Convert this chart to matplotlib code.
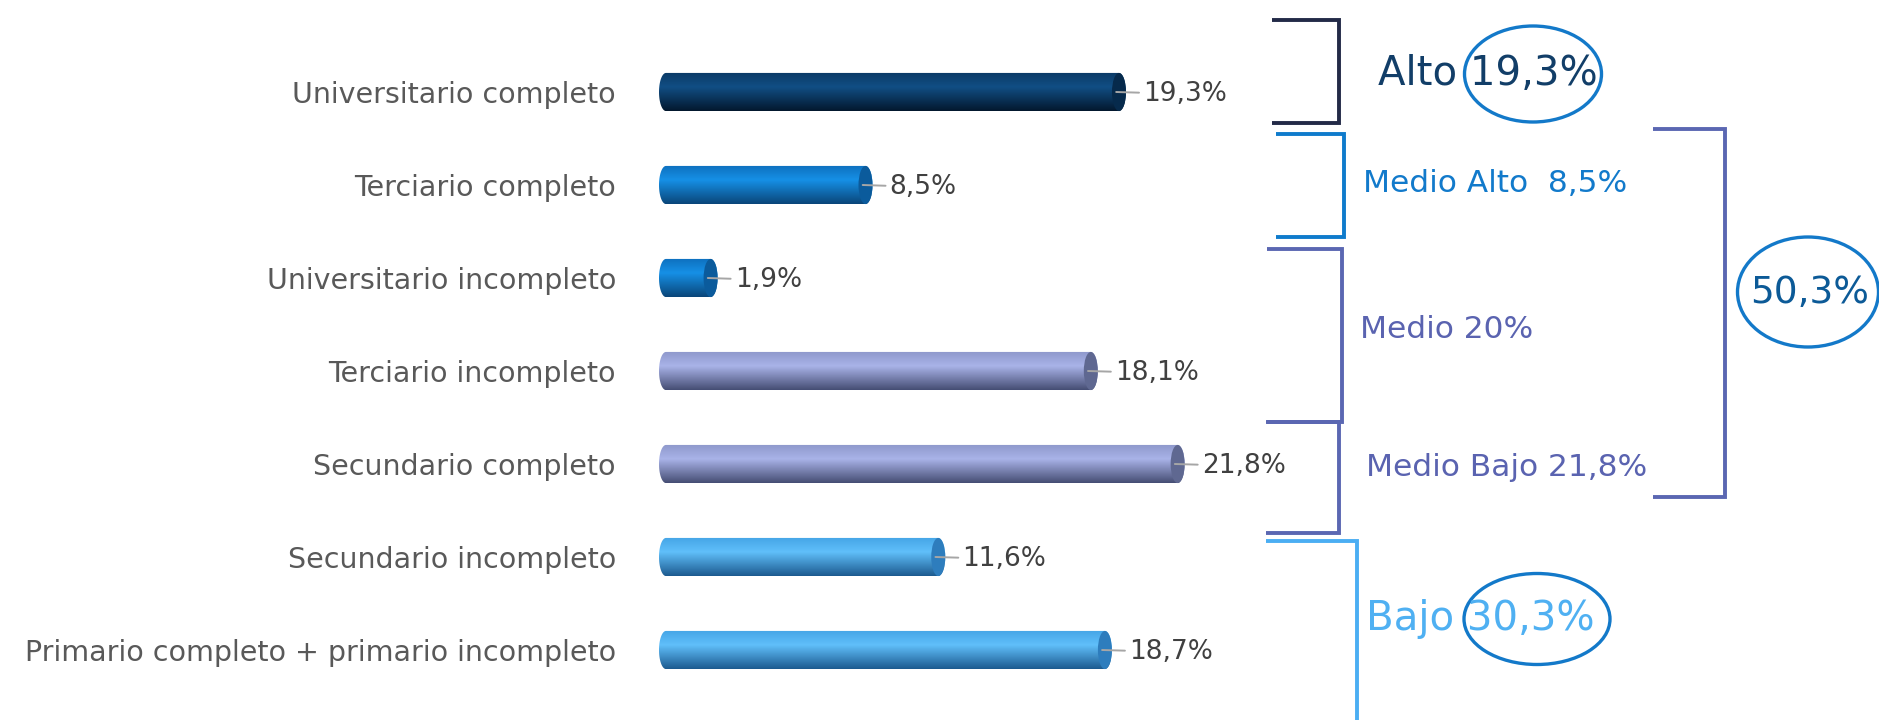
import numpy as np
import matplotlib
matplotlib.use("Agg")
import matplotlib.pyplot as plt
from matplotlib.patches import Ellipse, Polygon
from matplotlib.colors import to_rgb

plt.rcParams["font.family"] = ["DejaVu Sans"]

categories = ["Universitario completo", "Terciario completo", "Universitario incompleto",
              "Terciario incompleto", "Secundario completo", "Secundario incompleto",
              "Primario completo + primario incompleto"]
values = [19.3, 8.5, 1.9, 18.1, 21.8, 11.6, 18.7]
value_labels = ["19,3%", "8,5%", "1,9%", "18,1%", "21,8%", "11,6%", "18,7%"]
bar_group = ["alto", "medio_alto", "medio_alto", "medio", "medio", "bajo", "bajo"]

# cylinder shading: top edge, highlight, bottom edge, end cap
shades = {
    "alto": ("#0b3a66", "#114e84", "#03182e", "#062a4c"),
    "medio_alto": ("#0e70be", "#1690e6", "#0a4679", "#0b5b9c"),
    "medio": ("#8e98cb", "#a9b3e8", "#464e74", "#5f6891"),
    "bajo": ("#45a5e6", "#60bffa", "#1d5b90", "#2e7dbd"),
}

# grouping brackets on the right (figure pixels): x_open, x_close, y_top, y_bottom, colour
brackets = [
    (1272, 1339, 20, 123, "#232a47"),
    (1276, 1344, 134, 237, "#0f7bcc"),
    (1267, 1342, 249, 422, "#5b67b2"),
    (1266, 1339, 422, 533, "#5b67b2"),
    (1653, 1725, 129, 497, "#5b67b2"),
    (1266, 1357, 541, 730, "#4baef3"),
]
# group texts: x, y, text, colour, size, alignment
group_texts = [
    (1378, 74, "Alto 19,3%", "#123e68", 29, "left"),
    (1363, 183, "Medio Alto  8,5%", "#127acb", 22.5, "left"),
    (1360, 330, "Medio 20%", "#5a63b0", 22.5, "left"),
    (1366, 468, "Medio Bajo 21,8%", "#5a63b0", 22.5, "left"),
    (1810, 293, "50,3%", "#0c5a97", 27, "center"),
    (1366, 619, "Bajo 30,3%", "#4fb0f2", 29, "left"),
]
# highlight rings: cx, cy, width, height
rings = [(1533, 74, 137, 96), (1808, 292, 141, 110), (1537, 619, 146, 91)]

W, H = 1879, 720
fig = plt.figure(figsize=(W / 100, H / 100), dpi=100)

# bar axes in pixel placement
ppx = 23.47  # pixels per percent
capw = 14 / ppx
left, right = 659, 1250
top, bottom = 45.5, 696.5
ax = fig.add_axes([left / W, 1 - bottom / H, (right - left) / W, (bottom - top) / H])
ax.set_facecolor("none")
rows = np.arange(len(values))
h = 0.41

bars = ax.barh(rows, values, height=h, color=[shades[g][1] for g in bar_group], zorder=1)


def gradient(c_top, c_hi, c_bot, n=64):
    t = np.linspace(0, 1, n)
    stops = [0, 0.38, 1]
    cols = np.array([to_rgb(c_top), to_rgb(c_hi), to_rgb(c_bot)])
    img = np.stack([np.interp(t, stops, cols[:, k]) for k in range(3)], axis=1)
    return img[:, None, :]


th = np.linspace(-np.pi / 2, np.pi / 2, 40)
for r, v, g, b in zip(rows, values, bar_group, bars):
    c_top, c_hi, c_bot, c_cap = shades[g]
    y0 = r
    a, bb = capw / 2, h / 2
    right_edge = np.column_stack([v + a * np.cos(th), y0 + bb * np.sin(th)])
    left_edge = np.column_stack([-a * np.cos(th[::-1]), y0 + bb * np.sin(th[::-1])])
    shape = Polygon(np.vstack([right_edge, left_edge]), closed=True,
                    facecolor="none", edgecolor="none", transform=ax.transData)
    ax.add_patch(shape)
    im = ax.imshow(gradient(c_top, c_hi, c_bot), extent=(-a, v + a, y0 + bb, y0 - bb),
                   aspect="auto", origin="upper", zorder=2, interpolation="bilinear")
    im.set_clip_path(shape)
    ax.add_patch(Ellipse((v, y0), capw, h, facecolor=c_cap, edgecolor="none", zorder=3))
    ax.annotate(value_labels[r], xy=(v - a * 0.4, y0), xytext=(27, -2),
                textcoords="offset pixels", va="center", ha="left",
                fontsize=19, color="#404040", zorder=4,
                arrowprops=dict(arrowstyle="-", color="#a6a6a6", lw=1.4,
                                shrinkA=1, shrinkB=0))

ax.set_xlim(-capw / 2, (right - left) / ppx - capw / 2)
ax.set_ylim(len(values) - 0.5, -0.5)
ax.set_yticks(rows)
ax.set_yticklabels(categories, fontsize=20.5, color="#595959")
ax.tick_params(axis="y", length=0, pad=31)
ax.set_xticks([])
for s in ax.spines.values():
    s.set_visible(False)

# overlay for grouping annotations
ov = fig.add_axes([0, 0, 1, 1], zorder=5)
ov.set_xlim(0, W)
ov.set_ylim(H, 0)
ov.axis("off")

for x0, x1, y0, y1, c in brackets:
    ov.plot([x0, x1, x1, x0], [y0, y0, y1, y1], color=c, lw=2.8,
            solid_joinstyle="miter", solid_capstyle="butt", clip_on=False)

for x, y, s, c, fs, ha in group_texts:
    ov.text(x, y, s, color=c, fontsize=fs, ha=ha, va="center")

for cx, cy, w, hh in rings:
    ov.add_patch(Ellipse((cx, cy), w, hh, facecolor="none", edgecolor="#1379c9", lw=2.4))

fig.savefig("out.png", dpi=100, facecolor="white")
